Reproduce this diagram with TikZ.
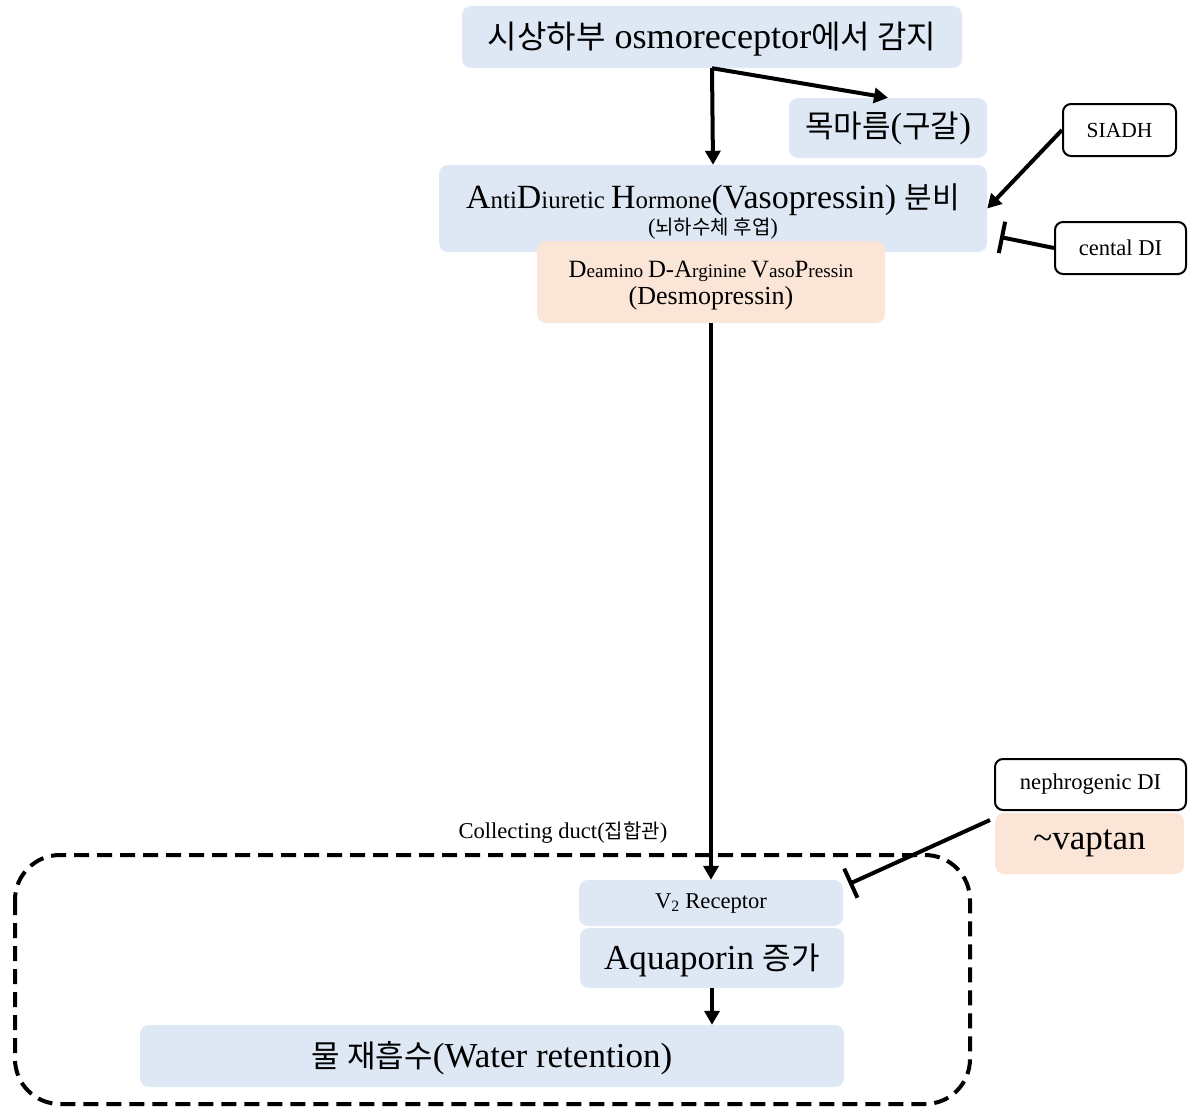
\documentclass[tikz,border=0pt]{standalone}
\usepackage{fontspec}
\setmainfont[Scale=1.13]{Liberation Serif}
\newfontfamily\kr{Noto Sans CJK KR}
\usetikzlibrary{arrows.meta}
\definecolor{lblue}{HTML}{DEE8F5}
\definecolor{peach}{HTML}{FBE5D6}
\newcommand\fs[1]{\fontsize{#1}{#1}\selectfont}
\tikzset{
  bluebox/.style={fill=lblue, rounded corners=9pt, inner sep=0pt},
  peachbox/.style={fill=peach, rounded corners=9pt, inner sep=0pt},
  outbox/.style={draw=black, line width=2pt, fill=white, rounded corners=8pt, inner sep=0pt, font=\fs{20}},
  txt/.style={inner sep=0pt},
  arr/.style={line width=4pt, -{Triangle[length=14pt,width=15pt]}},
  inh/.style={line width=4pt, -{Bar[width=32pt,line width=4pt]}}
}
\begin{document}
\begin{tikzpicture}[x=1pt,y=-1pt]
\useasboundingbox (0,0) rectangle (1191,1114);
% boxes
\node[bluebox, minimum width=500pt, minimum height=62pt] (box1) at (712,37) {};
\node[txt, font=\fs{32}] (box1t) at (712,39) {{\kr 시상하부} osmoreceptor{\kr 에서 감지}};
\node[bluebox, minimum width=198pt, minimum height=60pt, font=\fs{31}] (thirst) at (888,128) {{\kr 목마름}({\kr 구갈})};
\node[bluebox, minimum width=548pt, minimum height=87pt] (adh) at (713,208.5) {};
\node[txt, font=\fs{22}] (adht) at (713,200) {\fs{30}A\fs{22}nti\fs{30}D\fs{22}iuretic \fs{30}H\fs{22}ormone\fs{30}(Vasopressin) {\kr 분비}};
\node[txt, font=\fs{20}] (adhs) at (713,229) {({\kr 뇌하수체 후엽})};
\node[peachbox, minimum width=348pt, minimum height=82pt] (desmo) at (711,282) {};
\node[txt, font=\fs{17}] (desmo1) at (711,271) {\fs{22}D\fs{17}eamino \fs{22}D-A\fs{17}rginine \fs{22}V\fs{17}aso\fs{22}P\fs{17}ressin};
\node[txt, font=\fs{23}] (desmo2) at (711,298) {(Desmopressin)};
\node[outbox, minimum width=113pt, minimum height=52pt, font=\fs{19}] (siadh) at (1119.5,130) {SIADH};
\node[outbox, minimum width=131pt, minimum height=52pt] (central) at (1120.5,248) {cental DI};
\node[outbox, minimum width=191pt, minimum height=51pt] (neph) at (1090.5,784.5) {nephrogenic DI};
\node[peachbox, minimum width=189pt, minimum height=61pt, font=\fs{31}] (vaptan) at (1089.5,843.5) {\textasciitilde vaptan};
% collecting duct
\draw[line width=4pt, dash pattern=on 15pt off 8pt, rounded corners=45pt] (15,855) rectangle (970,1104);
\node[txt, font=\fs{20}] (cd) at (563,833) {Collecting duct({\kr 집합관})};
\node[bluebox, minimum width=264pt, minimum height=46pt, font=\fs{20}] (v2) at (711,903) {V\textsubscript{2} Receptor};
\node[bluebox, minimum width=264pt, minimum height=60pt] (aqua) at (712,958) {};
\node[txt, font=\fs{31}] (aquat) at (712,960) {Aquaporin {\kr 증가}};
\node[bluebox, minimum width=704pt, minimum height=62pt] (water) at (492,1056) {};
\node[txt, font=\fs{31}] (watert) at (492,1058) {{\kr 물 재흡수}(Water retention)};
% connectors
\coordinate (cdi) at (1000,237);
\coordinate (v2r) at (849,884);
\coordinate (vst) at (990,820);
\draw[arr] (box1.south) -- (adh.north);
\draw[arr] (box1.south) -- (thirst.north);
\draw[arr] (siadh.west) -- (adh.east);
\draw[inh] (central.west) -- (cdi);
\draw[arr] (desmo.south) -- (v2.north);
\draw[inh] (vst) -- (v2r);
\draw[arr] (aqua.south) -- (aqua.south |- water.north);
\end{tikzpicture}
\end{document}
